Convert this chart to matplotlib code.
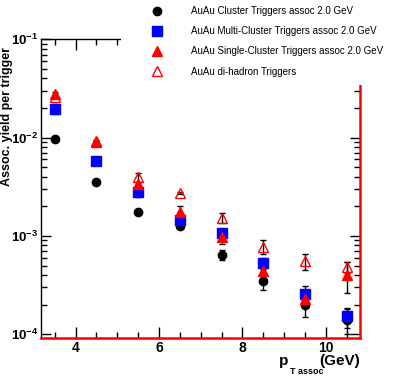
import math
import matplotlib
matplotlib.use("Agg")
import matplotlib.pyplot as plt
from matplotlib.lines import Line2D
from matplotlib.patches import Rectangle
from matplotlib.ticker import FixedLocator, FuncFormatter, LogLocator, NullFormatter, MultipleLocator

plt.rcParams['font.family'] = ['Liberation Sans', 'DejaVu Sans']
plt.rcParams['mathtext.fontset'] = 'custom'
plt.rcParams['mathtext.rm'] = 'Liberation Sans'
plt.rcParams['mathtext.bf'] = 'Liberation Sans:bold'
plt.rcParams['mathtext.it'] = 'Liberation Sans:italic'

pt = [3.5, 4.5, 5.5, 6.5, 7.5, 8.5, 9.5, 10.5]

cluster = [9.64e-3, 3.52e-3, 1.77e-3, 1.27e-3, 6.43e-4, 3.49e-4, 1.99e-4, 1.40e-4]
cluster_err = [0.2e-3, 0.1e-3, 0.06e-3, 0.05e-3, 0.8e-4, 0.65e-4, 0.48e-4, 0.4e-4]

multi = [1.96e-2, 5.79e-3, 2.82e-3, 1.46e-3, 1.07e-3, 5.30e-4, 2.56e-4, 1.52e-4]
multi_err = [0.23e-2, 0.35e-3, 0.34e-3, 0.1e-3, 0.08e-3, 0.6e-4, 0.57e-4, 0.35e-4]

single = [2.78e-2, 9.25e-3, 3.38e-3, 1.77e-3, 9.87e-4, 4.35e-4, 2.31e-4, 4.03e-4]
single_err = [0.1e-2, 0.3e-3, 0.15e-3, 0.25e-3, 0.16e-3, 0.3e-4, 0.2e-4, 1.4e-4]

dihadron = [2.61e-2, 9.04e-3, 3.94e-3, 2.72e-3, 1.52e-3, 7.80e-4, 5.50e-4, 4.78e-4]
dihadron_err = [0.1e-2, 0.2e-3, 0.4e-3, 0.08e-3, 0.18e-3, 1.3e-4, 1.0e-4, 0.6e-4]

labels = ["AuAu Cluster Triggers assoc 2.0 GeV",
          "AuAu Multi-Cluster Triggers assoc 2.0 GeV",
          "AuAu Single-Cluster Triggers assoc 2.0 GeV",
          "AuAu di-hadron Triggers"]

W, H = 401, 377
fig = plt.figure(figsize=(W / 100, H / 100), dpi=100)
ax = fig.add_axes([41/W, 1-338.3/H, (360-41)/W, (338.3-39.3)/H])

ekw = dict(ls='none', ecolor='black', elinewidth=1, capsize=2, capthick=1)
ax.errorbar(pt, cluster, yerr=cluster_err, marker='o', ms=6, mfc='black', mec='black', **ekw)
ax.errorbar(pt, multi, yerr=multi_err, marker='s', ms=6.5, mfc='#0000ff', mec='#0000ff', **ekw)
ax.errorbar(pt, dihadron, yerr=dihadron_err, marker='^', ms=7, mfc='none', mec='red', mew=1, **ekw)
ax.errorbar(pt, single, yerr=single_err, marker='^', ms=6.5, mfc='red', mec='red', **ekw)

ax.set_yscale('log')
ax.set_xlim(3.17, 10.82)
ax.set_ylim(9.1e-5, 0.1)

ax.xaxis.set_major_locator(FixedLocator([4, 6, 8, 10]))
ax.xaxis.set_minor_locator(MultipleLocator(0.5))
ax.yaxis.set_major_locator(LogLocator(base=10, numticks=10))
ax.yaxis.set_minor_locator(LogLocator(base=10, subs=range(2, 10), numticks=20))
ax.yaxis.set_minor_formatter(NullFormatter())


def yfmt(v, pos):
    e = int(round(math.log10(v)))
    return r'$\mathbf{10^{%d}}$' % e


ax.yaxis.set_major_formatter(FuncFormatter(yfmt))
ax.xaxis.set_major_formatter(FuncFormatter(lambda v, p: '%d' % v))

ax.tick_params(which='both', direction='in', top=True, right=True, colors='black')
ax.tick_params(which='major', length=8, width=1)
ax.tick_params(which='minor', length=4, width=1)
ax.tick_params(axis='y', which='major', length=7)
ax.tick_params(axis='x', labelsize=10, pad=2)
ax.tick_params(axis='y', labelsize=9.5, pad=2)
for lab in ax.get_xticklabels():
    lab.set_fontweight('bold')

for s in ['left', 'top']:
    ax.spines[s].set_color('black')
    ax.spines[s].set_linewidth(1)
for s in ['bottom', 'right']:
    ax.spines[s].set_color('red')
    ax.spines[s].set_linewidth(1.8)

ax.set_ylabel('Assoc. yield per trigger', fontsize=9, fontweight='bold')
ax.yaxis.set_label_coords(-0.089, 0.743)

# x-axis title: p_{T assoc}(GeV)
fig.text(279/W, 1-365/H, 'p', fontsize=11, fontweight='bold', ha='left', va='baseline')
fig.text(290/W, 1-374/H, 'T assoc', fontsize=6.5, fontweight='bold', ha='left', va='baseline')
fig.text(360/W, 1-365/H, '(GeV)', fontsize=11, fontweight='bold', ha='right', va='baseline')

# white legend pad covering the top-right of the frame
fig.add_artist(Rectangle((120.7/W, 1-85/H), 1, 85/H, transform=fig.transFigure,
                         facecolor='white', edgecolor='none', zorder=2))

handles = [Line2D([], [], ls='none', marker='o', ms=6, mfc='black', mec='black'),
           Line2D([], [], ls='none', marker='s', ms=6.5, mfc='#0000ff', mec='#0000ff'),
           Line2D([], [], ls='none', marker='^', ms=6.5, mfc='red', mec='red'),
           Line2D([], [], ls='none', marker='^', ms=7, mfc='none', mec='red', mew=1)]
leg = fig.legend(handles, labels, loc='upper left', bbox_to_anchor=(147.3/W, 1-6/H),
                 frameon=False, fontsize=7, handlelength=2, handletextpad=2.5,
                 labelspacing=1.05, borderpad=0, borderaxespad=0)
leg.set_zorder(5)

fig.savefig('out.png', dpi=100)
